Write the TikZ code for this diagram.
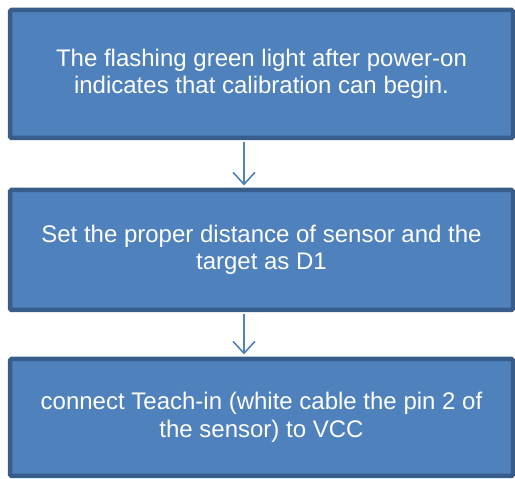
\documentclass[tikz,border=0pt]{standalone}
\usepackage{fontspec}
\setmainfont{Liberation Sans}
\usetikzlibrary{arrows.meta}
\definecolor{boxfill}{HTML}{4F81BD}
\definecolor{boxline}{HTML}{385D8A}
\begin{document}
\begin{tikzpicture}[x=1pt, y=1pt,
	stepbox/.style={draw=boxline, fill=boxfill, line width=4.5pt, rounded corners=1.5pt,
		minimum width=503pt, text=white, align=center, inner sep=0pt,
		font=\fontsize{24}{27.6}\selectfont},
	flow/.style={boxfill, line width=1.6pt, -{Straight Barb[length=12pt, width=22pt]}}]
	\useasboundingbox (0,0) rectangle (515,479);
	
	\node[stepbox, minimum height=128pt] (calib) at (261.5,405) {The flashing green light after power-on\\indicates that calibration can begin.};
	\node[stepbox, minimum height=120pt] (dist) at (261.5,229) {Set the proper distance of sensor and the\\target as D1};
	\node[stepbox, minimum height=117pt] (teach) at (261.5,61.5) {connect Teach-in (white cable the pin 2 of\\the sensor) to VCC};
	
	\draw[flow] ([xshift=-17.5pt, yshift=-2.25pt]calib.south) -- ([xshift=-17.5pt, yshift=2.25pt]dist.north);
	\draw[flow] ([xshift=-17.5pt, yshift=-2.25pt]dist.south) -- ([xshift=-17.5pt, yshift=2.25pt]teach.north);
\end{tikzpicture}
\end{document}
